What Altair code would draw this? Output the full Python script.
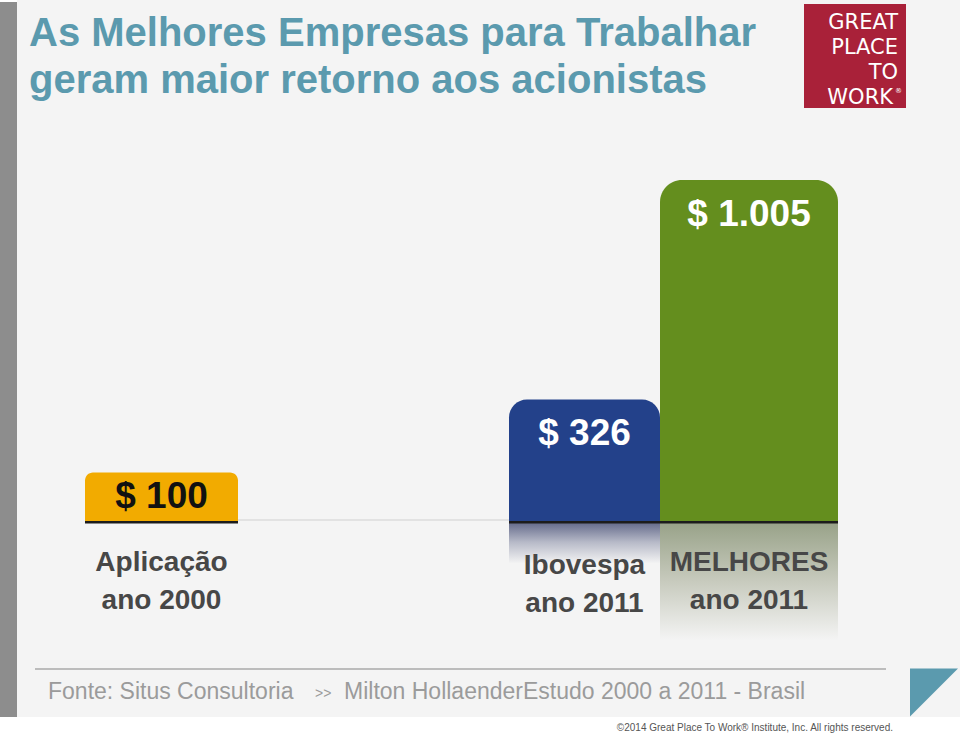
import altair as alt
import pandas as pd

# ---- data ----
categorias = ["Aplicação", "Ibovespa", "MELHORES"]
rotulos_ano = ["ano 2000", "ano 2011", "ano 2011"]
valores = [100, 326, 1005]
rotulos_valor = ["$ 100", "$ 326", "$ 1.005"]
cores = ["#f2ab00", "#23418a", "#648e1e"]

titulo = ["As Melhores Empresas para Trabalhar", "geram maior retorno aos acionistas"]
logo_linhas = ["GREAT", "PLACE", "TO", "WORK"]
fonte_txt = "Fonte: Situs Consultoria"
fonte_txt2 = "Milton HollaenderEstudo 2000 a 2011 - Brasil"
copyright_txt = "©2014 Great Place To Work® Institute, Inc. All rights reserved."

df = pd.DataFrame({
    "cat": categorias,
    "legenda": [c + "\n" + a for c, a in zip(categorias, rotulos_ano)],
    "valor": valores,
    "rotulo": rotulos_valor,
    "cor": cores,
})

FONT = "Liberation Sans"
Y0 = -50
yscale = alt.Scale(domain=[Y0, 1005], range=[521, 180], zero=False, nice=False)
xscale = alt.Scale(domain=categorias, range=[337.75, 831.25], paddingInner=0, paddingOuter=0)
X = alt.X("cat:N", scale=xscale, axis=None)
YV = alt.Y("valor:Q", scale=yscale, axis=None)
one = pd.DataFrame({"d": [0]})


def deco():
    return alt.Chart(one)


# ---- decorations ----
bg = deco().mark_rect(color="#f4f4f4").encode(
    x=alt.value(17), x2=alt.value(960), y=alt.value(0), y2=alt.value(717))
leftbar = deco().mark_rect(color="#8d8d8d").encode(
    x=alt.value(0), x2=alt.value(17), y=alt.value(2), y2=alt.value(717))

t1 = deco().mark_text(text=titulo[0], font=FONT, fontSize=40, fontWeight="bold",
                      color="#5b9aae", align="left", baseline="alphabetic").encode(
    x=alt.value(29), y=alt.value(46))
t2 = deco().mark_text(text=titulo[1], font=FONT, fontSize=40, fontWeight="bold",
                      color="#5b9aae", align="left", baseline="alphabetic").encode(
    x=alt.value(29), y=alt.value(93))

logo_bg = deco().mark_rect(color="#a92139").encode(
    x=alt.value(804), x2=alt.value(906), y=alt.value(4), y2=alt.value(108))
logo_bloco = deco().mark_text(text="\n".join(logo_linhas[:3]), lineBreak="\n", lineHeight=25,
                              font="DejaVu Sans", fontSize=21, color="white",
                              align="right", baseline="alphabetic").encode(
    x=alt.value(898), y=alt.value(29))
logo_work = deco().mark_text(text=logo_linhas[3], font="DejaVu Sans", fontSize=21,
                             color="white", align="right", baseline="alphabetic").encode(
    x=alt.value(893), y=alt.value(104))
logo_reg = deco().mark_text(text="®", font="DejaVu Sans", fontSize=7, color="white",
                            align="left", baseline="alphabetic").encode(
    x=alt.value(895), y=alt.value(93))

foot_line = deco().mark_rule(color="#aaaaaa", strokeWidth=1.5).encode(
    x=alt.value(35), x2=alt.value(886), y=alt.value(669))
foot1 = deco().mark_text(text=fonte_txt, font=FONT, fontSize=23, color="#9b9b9b",
                         align="left", baseline="alphabetic").encode(
    x=alt.value(48), y=alt.value(699))
foot_arrow = deco().mark_text(text=">>", font=FONT, fontSize=14, color="#9b9b9b",
                              align="left", baseline="alphabetic").encode(
    x=alt.value(315), y=alt.value(698))
foot2 = deco().mark_text(text=fonte_txt2, font=FONT, fontSize=23, color="#9b9b9b",
                         align="left", baseline="alphabetic").encode(
    x=alt.value(344), y=alt.value(699))
tri = deco().mark_point(shape="M -1 -1 L 1 -1 L -1 1 Z", size=2304, filled=True,
                        color="#5b9aae", opacity=1).encode(
    x=alt.value(934), y=alt.value(692.5))
copy = deco().mark_text(text=copyright_txt, font=FONT, fontSize=10, color="#555555",
                        align="right", baseline="alphabetic").encode(
    x=alt.value(893), y=alt.value(731))

baseline_rule = deco().mark_rule(color="#dddddd", strokeWidth=1.5).encode(
    x=alt.value(238), x2=alt.value(509), y=alt.value(520))

# ---- data-driven layers ----
base = alt.Chart(df).transform_calculate(
    base=f"{Y0}", low=f"{Y0 - 8}", r=f"{Y0} - 0.35 * (datum.valor - ({Y0}))")
YB = alt.Y("base:Q", scale=yscale, axis=None)
Y2B = alt.Y2("base:Q")
Y2L = alt.Y2("low:Q")


def grad(c0, c1):
    return alt.Gradient(gradient="linear", x1=0, x2=0, y1=0, y2=1,
                        stops=[alt.GradientStop(color=c0, offset=0),
                               alt.GradientStop(color=c1, offset=0.5),
                               alt.GradientStop(color="#f4f4f4", offset=1)])


def grupo(cat, largura, raio, cor_txt, dy_val, y_lab, desloc=0, reflexo=None):
    b = base.transform_filter(f"datum.cat == '{cat}'")
    camadas = []
    if reflexo is not None:
        camadas.append(b.mark_bar(color=grad(*reflexo), width=largura, xOffset=desloc).encode(
            x=X, y=alt.Y("r:Q", scale=yscale, axis=None), y2=Y2B))
    camadas.append(b.mark_bar(color="#1c1c1c", width=largura, xOffset=desloc).encode(
        x=X, y=YB, y2=Y2L))
    camadas.append(b.mark_bar(cornerRadiusTopLeft=raio, cornerRadiusTopRight=raio,
                              width=largura, xOffset=desloc).encode(
        x=X, y=YV, y2=Y2B, color=alt.Color("cor:N", scale=None)))
    camadas.append(b.mark_text(font=FONT, fontSize=37, fontWeight="bold", color=cor_txt,
                               baseline="middle", dy=dy_val, dx=desloc).encode(
        x=X, y=YV, text="rotulo:N"))
    camadas.append(b.mark_text(font=FONT, fontSize=28, fontWeight="bold", color="#474747",
                               baseline="middle", lineBreak="\n", lineHeight=38,
                               dx=desloc).encode(
        x=X, y=alt.value(y_lab), text="legenda:N"))
    return camadas


g_apl = grupo("Aplicação", 153, 8, "#111111", 24, 563, desloc=-258.5)
g_ibo = grupo("Ibovespa", 151, 18, "white", 35, 566, reflexo=("#5d6486", "#b7bac8"))
g_mel = grupo("MELHORES", 178, 22, "white", 35, 563, reflexo=("#97a187", "#c7cabd"))

chart = alt.layer(
    bg, leftbar, t1, t2, logo_bg, logo_bloco, logo_work, logo_reg,
    foot_line, foot1, foot_arrow, foot2,
    tri, copy, baseline_rule, *g_apl, *g_ibo, *g_mel,
).properties(
    width=960, height=735,
    autosize=alt.AutoSizeParams(type="none"),
    background="white",
).configure_view(stroke=None)

chart.save("out.html", embed_options={"renderer": "svg", "actions": False, "padding": 0})
